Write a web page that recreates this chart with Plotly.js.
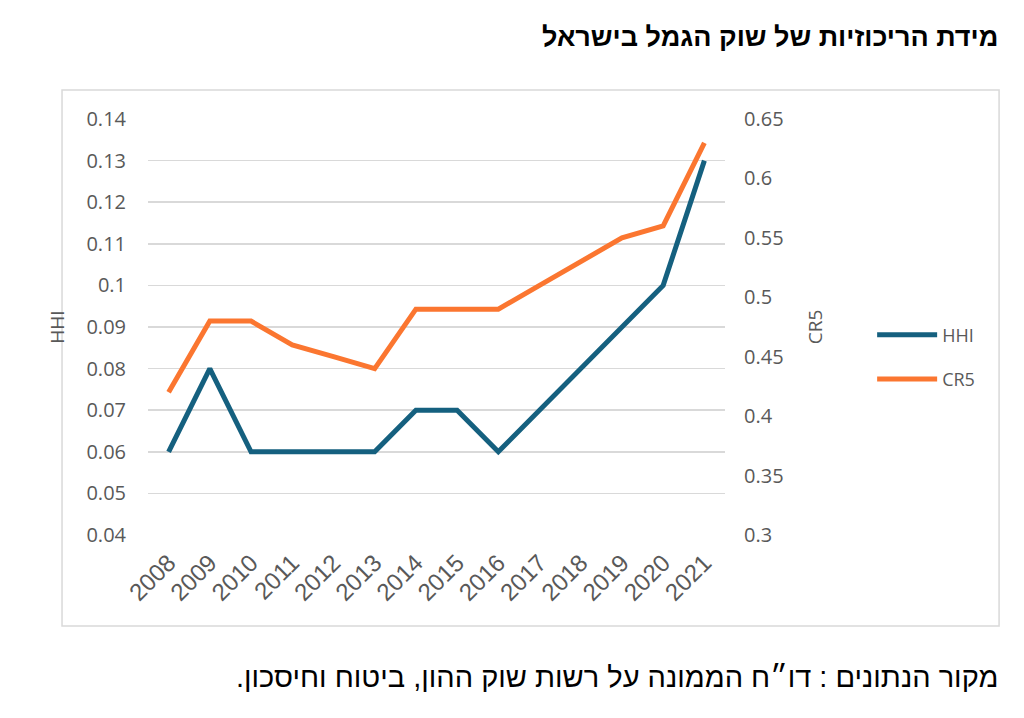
<!DOCTYPE html>
<html>
<head>
<meta charset="utf-8">
<script src="https://cdn.plot.ly/plotly-3.0.1.min.js"></script>
<style>html,body{margin:0;padding:0;background:#fff;}#chart{width:1024px;height:718px;}</style>
</head>
<body>
<div id="chart"></div>
<script>
const years = ['2008','2009','2010','2011','2012','2013','2014','2015','2016','2017','2018','2019','2020','2021'];
const hhi = [0.06,0.08,0.06,0.06,0.06,0.06,0.07,0.07,0.06,0.07,0.08,0.09,0.10,0.13];
const cr5 = [0.42,0.48,0.48,0.46,0.45,0.44,0.49,0.49,0.49,0.51,0.53,0.55,0.56,0.63];
const titleText = 'מידת הריכוזיות של שוק הגמל בישראל';
const sourceText = 'מקור הנתונים : דו״ח הממונה על רשות שוק ההון, ביטוח וחיסכון.';

const gray = '#595959';
const sans = 'Open Sans, Liberation Sans, sans-serif';
const tickFont = {family: sans, size: 20, color: gray};
const RLM = '\u200F';

const traces = [
  {x: years, y: hhi, name: 'HHI', type: 'scatter', mode: 'lines', yaxis: 'y',
   line: {color: '#15607f', width: 5}, legendgroup: 'a'},
  {x: years, y: cr5, name: 'CR5', type: 'scatter', mode: 'lines', yaxis: 'y2',
   line: {color: '#fb7630', width: 5}, legendgroup: 'b'}
];

const layout = {
  width: 1024, height: 718,
  margin: {l: 148, r: 299, t: 119, b: 183},
  paper_bgcolor: '#fff', plot_bgcolor: '#fff',
  showlegend: true,
  legend: {x: 1.255, y: 0.428, xanchor: 'left', yanchor: 'middle',
    font: {family: sans, size: 18, color: gray},
    traceorder: 'grouped', tracegroupgap: 18, itemwidth: 60},
  xaxis: {type: 'category', range: [-0.5, 13.5], tickangle: -45,
    tickfont: {family: 'Liberation Sans, Arial, sans-serif', size: 24, color: gray},
    showgrid: false, zeroline: false, showline: false, ticks: '', ticklabelstandoff: 8, fixedrange: true},
  yaxis: {range: [0.04, 0.14], dtick: 0.01, tickfont: tickFont, gridcolor: '#d9d9d9', gridwidth: 1.5,
    zeroline: false, showline: false, ticks: '', ticklabelstandoff: 21,
    title: {text: 'HHI', font: {family: sans, size: 19, color: gray}, standoff: 16}},
  yaxis2: {range: [0.3, 0.65], dtick: 0.05, overlaying: 'y', side: 'right', tickfont: tickFont,
    showgrid: false, zeroline: false, showline: false, ticks: '', ticklabelstandoff: 18,
    title: {text: 'CR5', font: {family: sans, size: 19, color: gray}, standoff: 26}},
  shapes: [
    {type: 'rect', xref: 'paper', yref: 'paper', x0: -0.149, x1: 1.475, y0: -0.219, y1: 1.07,
     line: {color: '#d9d9d9', width: 1.5}, fillcolor: 'rgba(0,0,0,0)', layer: 'below'}
  ],
  annotations: [
    {text: '<b>' + RLM + titleText + RLM + '</b>', xref: 'paper', yref: 'paper', x: 1.4766, y: 1.197,
     xanchor: 'right', yanchor: 'middle', showarrow: false,
     font: {family: 'Liberation Sans, DejaVu Sans, sans-serif', size: 27, color: '#000'}},
    {text: RLM + sourceText + RLM, xref: 'paper', yref: 'paper', x: 1.4766, y: -0.3414,
     xanchor: 'right', yanchor: 'middle', showarrow: false,
     font: {family: 'Liberation Sans, DejaVu Sans, sans-serif', size: 29, color: '#000'}}
  ]
};

Plotly.newPlot('chart', traces, layout, {displayModeBar: false, staticPlot: true});
</script>
</body>
</html>
